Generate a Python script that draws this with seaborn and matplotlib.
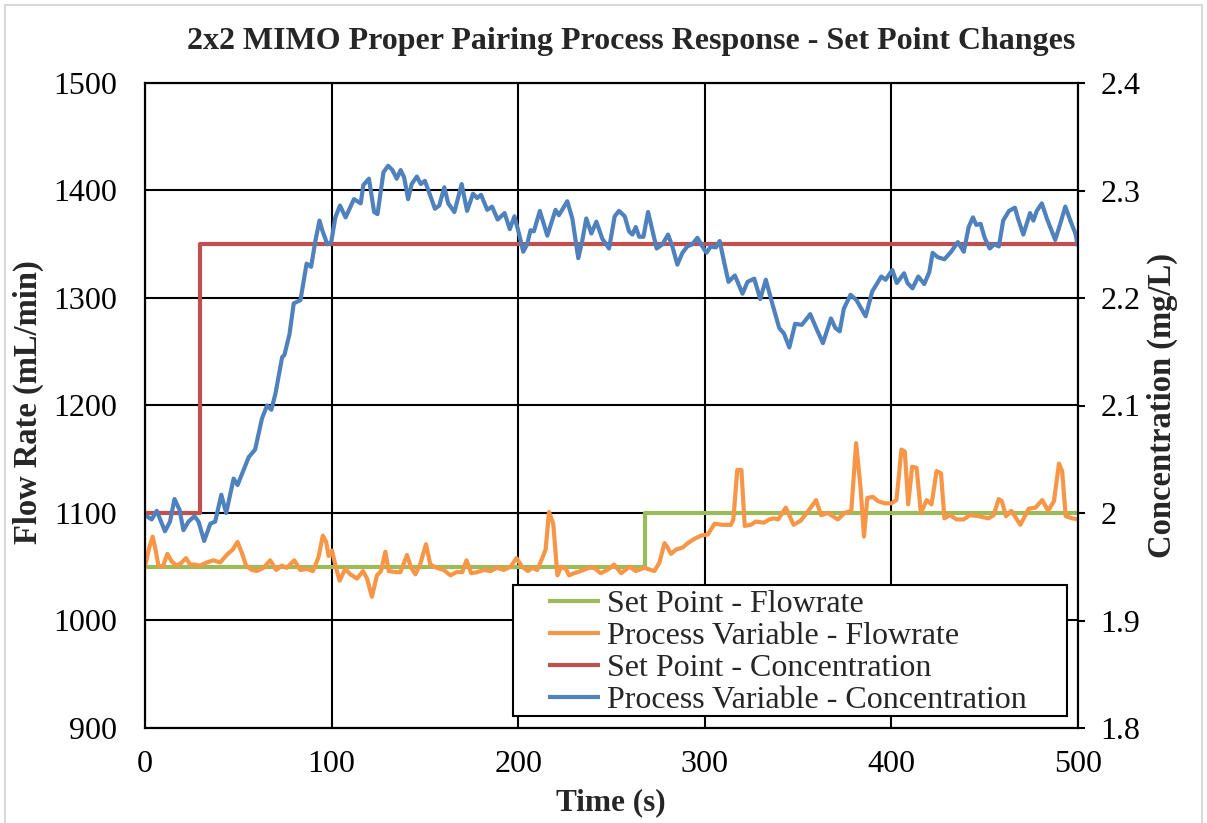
import matplotlib
matplotlib.use('Agg')
import matplotlib.pyplot as plt
from matplotlib.patches import Rectangle
from matplotlib.ticker import FuncFormatter
import seaborn as sns

# DATA ##

# Set point - flowrate (mL/min), step at ~268 s
sp_flow_t = [0, 268, 268, 500]
sp_flow = [1050, 1050, 1100, 1100]

# Set point - concentration (mg/L), step at ~29.5 s
sp_conc_t = [0, 29.5, 29.5, 500]
sp_conc = [2.0, 2.0, 2.25, 2.25]

# Process variable - flowrate (mL/min)
pv_flow_t = [0, 2.3, 4.1, 5.4, 7.2, 9.5, 12, 14.3, 17, 19.7, 22, 24.2, 26.8, 29.5, 33.1, 36.7, 40.3, 43.8,
             47, 49.6, 51.9, 54.2, 57.2, 59.9, 63.5, 67.1, 70.3, 73.3, 76, 80, 83.2, 86.8, 90, 93, 95.3, 97.1,
             98.4, 100.2, 102.5, 104.3, 107.3, 110, 113.6, 116.8, 119, 121.6, 124.3, 126.5, 128.8, 130.6,
             134.2, 136.9, 140.4, 142.6, 144.9, 147.6, 150.6, 152.9, 156.5, 160.1, 163.7, 166.9, 170, 172.3,
             174.8, 178, 181.6, 185.2, 188.7, 192.3, 195.9, 199.1, 202.1, 205.2, 207.5, 210.2, 212.9, 214.7,
             216.5, 218.8, 221, 223.1, 225.5, 227.3, 229.9, 233.5, 238, 240.7, 244.2, 247.8, 251.4, 255.2,
             259.6, 263.1, 267.6, 273, 275.7, 278.4, 280, 281.9, 284.6, 288.2, 290.9, 294.5, 298, 301.6,
             305.2, 309.7, 314, 315.3, 317.4, 319.6, 321.4, 324.6, 327.3, 331.8, 334.5, 337.2, 339.3, 343.4,
             347.6, 351.5, 355.5, 359.6, 362.3, 365.9, 371.3, 374.9, 378.5, 381.1, 383.5, 385.3, 387.1,
             390.1, 392.8, 396.4, 400, 402.7, 405.4, 407.2, 409, 411.1, 413.5, 415.8, 418.9, 421.5, 424.2,
             426.6, 428.4, 431.4, 435, 438.6, 442.2, 446.7, 452.1, 454.8, 457.5, 459.2, 461.4, 464.3, 469.1,
             473.6, 477.2, 480.8, 484, 487.1, 489.8, 491.5, 493.4, 497, 500]
pv_flow = [1050, 1068, 1078, 1068, 1051, 1050, 1062, 1055, 1051, 1054, 1058, 1052, 1052, 1051, 1054, 1056,
           1054, 1061, 1066, 1073, 1063, 1051, 1047, 1046, 1049, 1056, 1047, 1051, 1049, 1056, 1047, 1048,
           1046, 1059, 1079, 1073, 1060, 1065, 1048, 1037, 1048, 1043, 1039, 1046, 1039, 1022, 1042, 1046,
           1064, 1046, 1045, 1045, 1061, 1049, 1043, 1053, 1071, 1052, 1049, 1047, 1042, 1045, 1045, 1056,
           1044, 1045, 1047, 1046, 1049, 1047, 1050, 1058, 1050, 1046, 1049, 1047, 1058, 1066, 1101, 1090,
           1042, 1050, 1048, 1042, 1044, 1046, 1049, 1049, 1044, 1047, 1052, 1044, 1050, 1046, 1049, 1046,
           1054, 1072, 1068, 1062, 1066, 1068, 1072, 1076, 1079, 1080, 1090, 1089, 1089, 1094, 1140, 1140,
           1088, 1089, 1092, 1091, 1094, 1095, 1094, 1105, 1089, 1093, 1102, 1112, 1098, 1100, 1094, 1100,
           1102, 1165, 1123, 1078, 1114, 1115, 1111, 1109, 1109, 1112, 1159, 1157, 1108, 1143, 1142, 1100,
           1112, 1108, 1139, 1137, 1095, 1098, 1094, 1094, 1098, 1097, 1095, 1098, 1113, 1111, 1097, 1102,
           1089, 1104, 1105, 1112, 1102, 1111, 1146, 1139, 1097, 1095, 1094]

# Process variable - concentration (mg/L)
pv_conc_t = [0, 3.6, 6.3, 10.7, 13.4, 15.8, 18.5, 20.6, 23.3, 26.5, 28.7, 31.7, 35, 37.6, 40.9, 43.5, 47.5,
             49.6, 55.6, 59, 62.7, 65.4, 67.7, 69.9, 73.5, 74.7, 77.4, 79.7, 83.3, 86.6, 89, 91.4, 93.5, 95,
             97.7, 99.8, 102, 104.5, 107.5, 112, 115.6, 117, 120, 122.8, 124.6, 127.8, 130.3, 132.6, 134.9,
             137, 138.9, 141, 142.9, 145.7, 147.8, 150, 152.3, 155.4, 157.7, 160.4, 162.5, 165.8, 169.7,
             172.6, 175.8, 178, 180.1, 183.4, 186, 189, 192.7, 195.5, 198, 200.4, 202.7, 204.8, 206.6, 208.4,
             211.6, 215.6, 220, 221.8, 226.3, 229, 232.2, 234.3, 236.5, 239.2, 241.9, 245.1, 248.7, 251.7,
             254, 257.1, 259.4, 261.2, 263, 264.8, 267.1, 269.6, 271.9, 274.2, 277.3, 280.3, 282.6, 285.3,
             288, 290.6, 293.3, 296, 298.7, 300.9, 303.2, 305.9, 308, 310.4, 312.7, 316.1, 320.2, 322.9,
             326.5, 329.7, 332.7, 336.3, 339.9, 342.4, 345.3, 348.4, 352, 356.5, 359.2, 363.3, 367.6, 370,
             372.3, 374.5, 378.1, 381.3, 386.2, 389.7, 394.6, 396.9, 400.5, 402.9, 406.8, 408.6, 411.3, 414.4,
             417.6, 420.3, 422.1, 424.8, 428.4, 432, 435.6, 438.8, 441.4, 443.7, 445.5, 447.8, 450, 452.7,
             455, 457.6, 459.9, 463, 466.2, 468, 470.7, 474.3, 476.1, 477.9, 480.6, 483.3, 487.8, 491, 493.2,
             495.9, 498.6, 500]
pv_conc = [1.998, 1.994, 2.002, 1.983, 1.992, 2.013, 2.003, 1.984, 1.992, 1.997, 1.992, 1.974, 1.990, 1.992,
           2.017, 2.000, 2.032, 2.026, 2.052, 2.059, 2.088, 2.100, 2.096, 2.111, 2.145, 2.147, 2.166, 2.195,
           2.198, 2.232, 2.229, 2.254, 2.272, 2.263, 2.250, 2.252, 2.275, 2.286, 2.275, 2.292, 2.288, 2.305,
           2.311, 2.280, 2.278, 2.317, 2.323, 2.319, 2.311, 2.319, 2.312, 2.292, 2.306, 2.313, 2.306, 2.309,
           2.298, 2.283, 2.286, 2.303, 2.288, 2.280, 2.306, 2.281, 2.297, 2.293, 2.296, 2.282, 2.285, 2.273,
           2.279, 2.264, 2.276, 2.260, 2.243, 2.250, 2.263, 2.262, 2.281, 2.258, 2.282, 2.277, 2.290, 2.274,
           2.237, 2.253, 2.274, 2.260, 2.271, 2.255, 2.246, 2.276, 2.281, 2.276, 2.262, 2.259, 2.266, 2.257,
           2.257, 2.280, 2.263, 2.246, 2.250, 2.259, 2.248, 2.231, 2.242, 2.248, 2.250, 2.256, 2.248, 2.242,
           2.248, 2.247, 2.253, 2.233, 2.215, 2.221, 2.204, 2.215, 2.218, 2.199, 2.217, 2.194, 2.172, 2.167,
           2.154, 2.176, 2.175, 2.185, 2.174, 2.158, 2.181, 2.172, 2.169, 2.190, 2.203, 2.198, 2.183, 2.206,
           2.220, 2.217, 2.226, 2.214, 2.223, 2.214, 2.209, 2.220, 2.213, 2.224, 2.242, 2.238, 2.236, 2.243,
           2.252, 2.243, 2.266, 2.275, 2.268, 2.269, 2.256, 2.246, 2.250, 2.248, 2.272, 2.281, 2.284, 2.273,
           2.259, 2.279, 2.272, 2.281, 2.288, 2.274, 2.254, 2.272, 2.285, 2.272, 2.260, 2.248]

labels = ['Set Point - Flowrate', 'Process Variable - Flowrate',
          'Set Point - Concentration', 'Process Variable - Concentration']

# Excel 2007 style colours
colors = ['#9BBB59', '#F79646', '#C0504D', '#4F81BD']

# PLOT ##

sns.set_style('white')
plt.rcParams['font.family'] = ['Liberation Serif', 'DejaVu Serif']

fig = plt.figure(figsize=(12.07, 8.23), dpi=100)
ax = fig.add_axes([145 / 1207, 1 - 728 / 823, 933 / 1207, 645 / 823])
ax2 = ax.twinx()

# Round joins give the softer, Excel-like trace
line_kw = dict(linewidth=3.0, estimator=None, sort=False, solid_joinstyle='round', solid_capstyle='butt')
sns.lineplot(x=sp_flow_t, y=sp_flow, ax=ax, color=colors[0], label=labels[0], **line_kw)
sns.lineplot(x=pv_flow_t, y=pv_flow, ax=ax, color=colors[1], label=labels[1], **line_kw)
sns.lineplot(x=sp_conc_t, y=sp_conc, ax=ax2, color=colors[2], label=labels[2], **line_kw)
sns.lineplot(x=pv_conc_t, y=pv_conc, ax=ax2, color=colors[3], label=labels[3], **line_kw)
ax.get_legend().remove()
ax2.get_legend().remove()

# Axes limits and ticks
ax.set_xlim(0, 500)
ax.set_ylim(900, 1500)
ax2.set_ylim(1.8, 2.4)
ax.set_xticks(range(0, 501, 100))
ax.set_yticks(range(900, 1501, 100))
ax2.set_yticks([1.8, 1.9, 2.0, 2.1, 2.2, 2.3, 2.4])
ax2.yaxis.set_major_formatter(FuncFormatter(lambda v, p: f'{v:g}'))

ax.grid(True, color='black', linewidth=1.5)
ax2.grid(False)
for a in (ax, ax2):
    for s in a.spines.values():
        s.set_color('black')
        s.set_linewidth(1.5)

ax.tick_params(axis='y', length=0, pad=20, labelsize=23, colors='black')
ax.tick_params(axis='x', length=0, pad=16, labelsize=23, colors='black')
ax2.tick_params(axis='y', length=5, width=1.5, direction='out', pad=11, labelsize=23, colors='black')
ax.set_xlabel('')
ax.set_ylabel('')
ax2.set_ylabel('')

# Titles and axis labels
fig.text(631 / 1207, 1 - 42 / 823, '2x2 MIMO Proper Pairing Process Response - Set Point Changes',
         ha='center', va='center', fontsize=23, fontweight='bold')
fig.text(611 / 1207, 1 - 803 / 823, 'Time (s)', ha='center', va='center', fontsize=22.5, fontweight='bold')
fig.text(28 / 1207, 1 - 402 / 823, 'Flow Rate (mL/min)', ha='center', va='center', rotation=90,
         fontsize=23.5, fontweight='bold')
fig.text(1162 / 1207, 1 - 406 / 823, 'Concentration (mg/L)', ha='center', va='center', rotation=90,
         fontsize=23.5, fontweight='bold')

# Legend in a white box with black border
box = Rectangle((0.3944, 0.0186), 0.5938, 0.2031, transform=ax2.transAxes, facecolor='white',
                edgecolor='black', linewidth=1.5, zorder=5, clip_on=False)
ax2.add_patch(box)
handles = [h for h in ax.get_lines() if h.get_label() in labels] + \
          [h for h in ax2.get_lines() if h.get_label() in labels]
leg = ax2.legend(handles=handles, labels=labels, loc='upper left', bbox_to_anchor=(0.432, 0.214),
                 frameon=False, fontsize=23, borderpad=0, borderaxespad=0, labelspacing=0.08,
                 handlelength=1.63, handletextpad=0.2)
leg.set_zorder(6)

# Light grey chart border
fig.patches.append(Rectangle((5 / 1207, -0.01), 1197 / 1207, 1.01 - 5 / 823, transform=fig.transFigure,
                             fill=False, edgecolor='#d9d9d9', linewidth=1.5))

plt.savefig('out.png', dpi=100)
plt.close()
